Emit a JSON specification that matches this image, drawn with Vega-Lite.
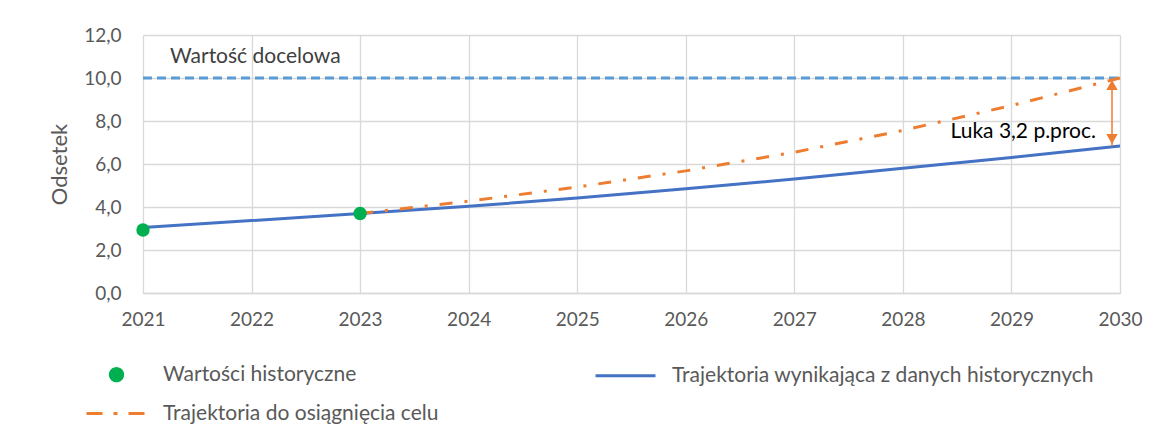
{
  "$schema": "https://vega.github.io/schema/vega-lite/v6.json",
  "autosize": "none",
  "width": 977,
  "height": 258,
  "padding": {"left": 143, "top": 35, "right": 43, "bottom": 151},
  "background": "white",
  "config": {
    "view": {"stroke": null},
    "font": "Lato",
    "axis": {"labelFont": "Lato", "titleFont": "Lato", "labelColor": "#595959", "titleColor": "#595959", "gridColor": "#D9D9D9", "gridWidth": 1.3, "domainColor": "#D9D9D9", "domainWidth": 1.3, "ticks": false}
  },
  "datasets": {
    "main": [
      {"year": 2021, "value": 2.93, "series": "Wartości historyczne"},
      {"year": 2023, "value": 3.7, "series": "Wartości historyczne"},
      {"year": 2021, "value": 3.05, "series": "Trajektoria wynikająca z danych historycznych"},
      {"year": 2022, "value": 3.37, "series": "Trajektoria wynikająca z danych historycznych"},
      {"year": 2023, "value": 3.7, "series": "Trajektoria wynikająca z danych historycznych"},
      {"year": 2024, "value": 4.03, "series": "Trajektoria wynikająca z danych historycznych"},
      {"year": 2025, "value": 4.42, "series": "Trajektoria wynikająca z danych historycznych"},
      {"year": 2026, "value": 4.85, "series": "Trajektoria wynikająca z danych historycznych"},
      {"year": 2027, "value": 5.3, "series": "Trajektoria wynikająca z danych historycznych"},
      {"year": 2028, "value": 5.8, "series": "Trajektoria wynikająca z danych historycznych"},
      {"year": 2029, "value": 6.3, "series": "Trajektoria wynikająca z danych historycznych"},
      {"year": 2030, "value": 6.84, "series": "Trajektoria wynikająca z danych historycznych"},
      {"year": 2023, "value": 3.7, "series": "Trajektoria do osiągnięcia celu"},
      {"year": 2024, "value": 4.27, "series": "Trajektoria do osiągnięcia celu"},
      {"year": 2025, "value": 4.93, "series": "Trajektoria do osiągnięcia celu"},
      {"year": 2026, "value": 5.68, "series": "Trajektoria do osiągnięcia celu"},
      {"year": 2027, "value": 6.55, "series": "Trajektoria do osiągnięcia celu"},
      {"year": 2028, "value": 7.56, "series": "Trajektoria do osiągnięcia celu"},
      {"year": 2029, "value": 8.72, "series": "Trajektoria do osiągnięcia celu"},
      {"year": 2030, "value": 10.0, "series": "Trajektoria do osiągnięcia celu"}
    ],
    "target": [
      {"year": 2021, "value": 10},
      {"year": 2030, "value": 10}
    ],
    "gap": [
      {"year": 2030, "top": 10, "bottom": 6.84, "label": "Luka 3,2 p.proc.", "mid": 7.5}
    ],
    "notes": [
      {"year": 2021, "value": 11, "label": "Wartość docelowa"}
    ]
  },
  "encoding": {
    "x": {
      "field": "year", "type": "quantitative",
      "scale": {"domain": [2021, 2030], "nice": false, "zero": false},
      "axis": {"title": null, "values": [2021, 2022, 2023, 2024, 2025, 2026, 2027, 2028, 2029, 2030], "format": "d", "labelFontSize": 19, "labelPadding": 17, "grid": true, "labelFlush": false}
    }
  },
  "layer": [
    {
      "data": {"name": "target"},
      "mark": {"type": "line", "color": "#5B9BD5", "strokeWidth": 3, "strokeDash": [9, 5]},
      "encoding": {
        "y": {
          "field": "value", "type": "quantitative",
          "scale": {"domain": [0, 12], "nice": false},
          "axis": {"title": "Odsetek", "titleFontSize": 22, "titleFontWeight": "normal", "titlePadding": 12, "values": [0, 2, 4, 6, 8, 10, 12], "labelExpr": "replace(format(datum.value, '.1f'), '.', ',')", "labelFontSize": 19, "labelPadding": 22, "domain": false, "grid": true}
        }
      }
    },
    {
      "data": {"name": "main"},
      "transform": [{"filter": "datum.series === 'Trajektoria wynikająca z danych historycznych'"}],
      "mark": {"type": "line", "strokeWidth": 3},
      "encoding": {
        "y": {"field": "value", "type": "quantitative"},
        "color": {
          "field": "series", "type": "nominal",
          "scale": {"domain": ["Wartości historyczne", "Trajektoria do osiągnięcia celu", "Trajektoria wynikająca z danych historycznych"], "range": ["#00B050", "#ED7D31", "#4472C4"]},
          "legend": {
            "title": null,
            "orient": "none",
            "legendX": -38,
            "legendY": 328,
            "columns": 2,
            "columnPadding": 150,
            "rowPadding": 15,
            "symbolSize": 400,
            "labelOffset": 35,
            "labelFontSize": 21,
            "labelFont": "Lato",
            "labelColor": "#595959",
            "labelLimit": 700,
            "encode": {
              "symbols": {
                "update": {
                  "shape": {"signal": "datum.value === 'Wartości historyczne' ? 'circle' : 'M-3,0H3'"},
                  "size": {"signal": "datum.value === 'Wartości historyczne' ? 150 : 400"},
                  "strokeDash": {"signal": "datum.value === 'Trajektoria do osiągnięcia celu' ? [16, 11, 4, 11] : [1, 0]"},
                  "strokeWidth": {"value": 3},
                  "opacity": {"value": 1},
                  "fill": {"signal": "datum.value === 'Wartości historyczne' ? '#00B050' : 'transparent'"},
                  "stroke": {"signal": "datum.value === 'Wartości historyczne' ? 'transparent' : (datum.value === 'Trajektoria do osiągnięcia celu' ? '#ED7D31' : '#4472C4')"}
                }
              }
            }
          }
        }
      }
    },
    {
      "data": {"name": "main"},
      "transform": [{"filter": "datum.series === 'Trajektoria do osiągnięcia celu'"}],
      "mark": {"type": "line", "strokeWidth": 3, "strokeDash": [13, 12, 3, 12]},
      "encoding": {
        "y": {"field": "value", "type": "quantitative"},
        "color": {"field": "series", "type": "nominal"}
      }
    },
    {
      "data": {"name": "main"},
      "transform": [{"filter": "datum.series === 'Wartości historyczne'"}],
      "mark": {"type": "point", "filled": true, "size": 180, "opacity": 1, "shape": "circle"},
      "encoding": {
        "y": {"field": "value", "type": "quantitative"},
        "color": {"field": "series", "type": "nominal"}
      }
    },
    {
      "data": {"name": "gap"},
      "mark": {"type": "rule", "color": "#ED7D31", "strokeWidth": 1.5, "xOffset": -8},
      "encoding": {
        "y": {"field": "top", "type": "quantitative"},
        "y2": {"field": "bottom"}
      }
    },
    {
      "data": {"name": "gap"},
      "mark": {"type": "point", "shape": "triangle-up", "filled": true, "color": "#ED7D31", "opacity": 1, "size": 130, "xOffset": -8, "yOffset": 7},
      "encoding": {
        "y": {"field": "top", "type": "quantitative"}
      }
    },
    {
      "data": {"name": "gap"},
      "mark": {"type": "point", "shape": "triangle-down", "filled": true, "color": "#ED7D31", "opacity": 1, "size": 130, "xOffset": -8, "yOffset": -7},
      "encoding": {
        "y": {"field": "bottom", "type": "quantitative"}
      }
    },
    {
      "data": {"name": "gap"},
      "mark": {"type": "text", "align": "right", "baseline": "middle", "fontSize": 21, "font": "Lato", "color": "#000000", "xOffset": -24},
      "encoding": {
        "y": {"field": "mid", "type": "quantitative"},
        "text": {"field": "label"}
      }
    },
    {
      "data": {"name": "notes"},
      "mark": {"type": "text", "align": "left", "baseline": "middle", "fontSize": 21, "font": "Lato", "color": "#404040", "xOffset": 27},
      "encoding": {
        "y": {"field": "value", "type": "quantitative"},
        "text": {"field": "label"}
      }
    }
  ]
}
